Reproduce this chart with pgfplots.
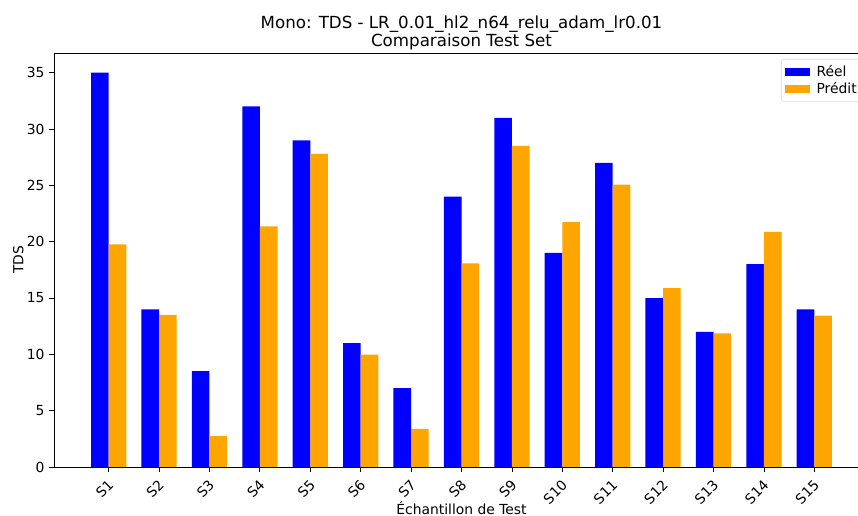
\documentclass[border=0pt]{standalone}
\usepackage{pgfplots}
\pgfplotsset{compat=1.18}
\usepackage{fontspec}
\setmainfont{DejaVu Sans}
\definecolor{mplorange}{RGB}{255,165,0}
\definecolor{mplblue}{RGB}{0,0,255}
\begin{document}
\begin{tikzpicture}
\begin{axis}[
  at={(0,0)}, anchor=south west,
  scale only axis,
  width=611.25pt, height=310.5pt,
  xmin=-1.085, xmax=15.085,
  ymin=0, ymax=36.75,
  xtick={0,...,14},
  xticklabels={S1,S2,S3,S4,S5,S6,S7,S8,S9,S10,S11,S12,S13,S14,S15},
  ytick={0,5,...,35},
  tick align=outside,
  xtick pos=bottom, ytick pos=left,
  major tick length=3.6pt,
  tick style={black, line width=0.6pt},
  axis line style={black, line width=0.6pt},
  /pgf/number format/assume math mode=true,
  tick label style={font=\fontsize{10.4}{12.5}\selectfont},
  xticklabel style={rotate=45, anchor=east, inner sep=1pt, yshift=-7pt, xshift=-3.5pt},
  label style={font=\fontsize{10.4}{12.5}\selectfont},
  xlabel={Échantillon de Test},
  xlabel style={at={(rel axis cs:0.5,0)}, anchor=base, inner sep=0pt, yshift=-35.5pt},
  ylabel={TDS},
  ylabel shift=-4.5pt,
  title={Mono: TDS - LR\_0.01\_hl2\_n64\_relu\_adam\_lr0.01\\Comparaison Test Set},
  title style={font=\fontsize{12.5}{13.5}\selectfont, align=center, at={(0.5,1)}, anchor=south, inner sep=0pt, yshift=-4pt},
  legend style={at={(1,1)}, anchor=north east, xshift=-4.5pt, yshift=-4.5pt,
    draw=black!15, fill=white, rounded corners=2pt,
    font=\fontsize{10.4}{12.5}\selectfont, row sep=-1pt, inner sep=2.5pt},
  legend cell align=left,
  legend image code/.code={\fill[#1, sharp corners] (0pt,-3.2pt) rectangle (19pt,3.2pt); \path (22pt,0pt);},
]
\addplot[ybar, fill=mplblue, draw=none, bar width=0.35, bar shift=-0.175] coordinates {
(0,35) (1,14) (2,8.5) (3,32) (4,29) (5,11) (6,7) (7,24) (8,31) (9,19) (10,27) (11,15) (12,12) (13,18) (14,14)};
\addlegendentry{Réel}
\addplot[ybar, fill=mplorange, draw=none, bar width=0.35, bar shift=0.175] coordinates {
(0,19.77) (1,13.5) (2,2.73) (3,21.36) (4,27.8) (5,9.97) (6,3.38) (7,18.07) (8,28.5) (9,21.74) (10,25.07) (11,15.87) (12,11.87) (13,20.88) (14,13.44)};
\addlegendentry{Prédit}
\end{axis}
\pgfresetboundingbox
\useasboundingbox (-40.5pt,-36.75pt) rectangle (603pt,350.25pt);
\end{tikzpicture}
\end{document}
